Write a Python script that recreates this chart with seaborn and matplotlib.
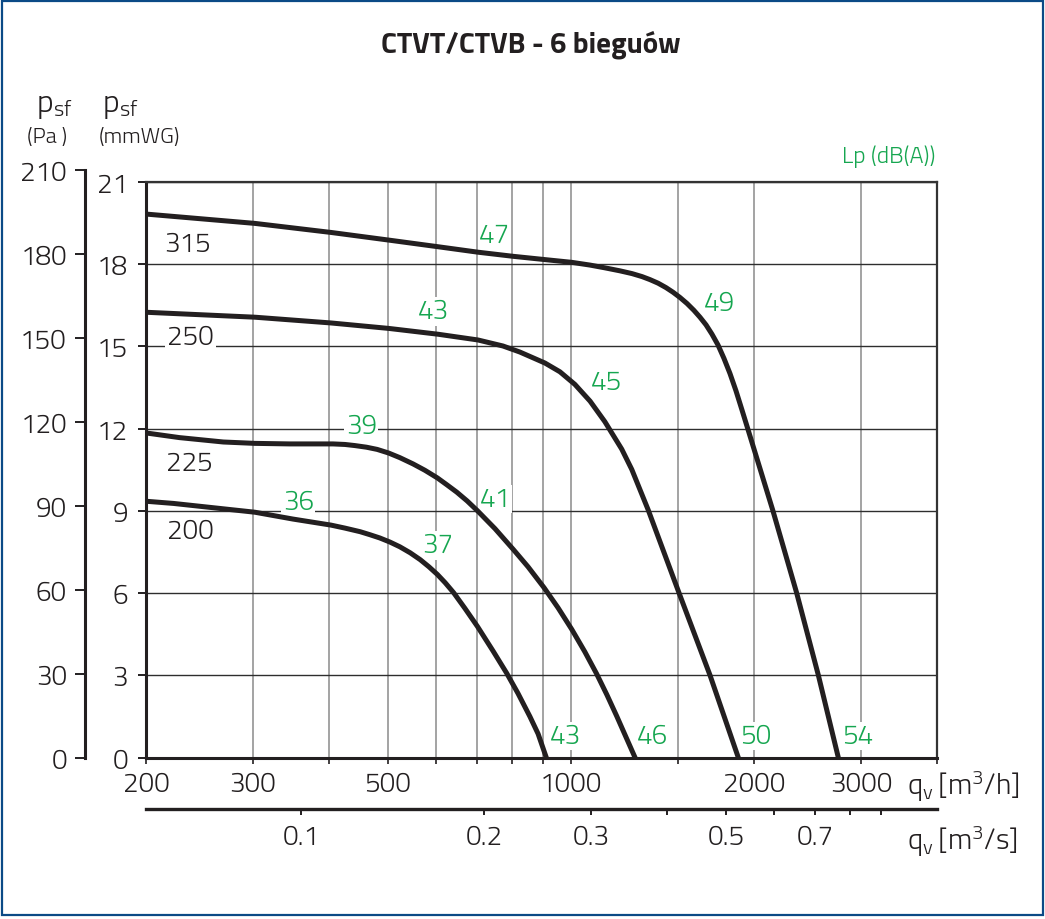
import numpy as np
import pandas as pd
import seaborn as sns
import matplotlib.pyplot as plt
from matplotlib.ticker import FixedLocator, FixedFormatter, NullLocator
from matplotlib.patches import Rectangle

# Fan curves: airflow q [m3/h] vs static pressure p [mmWG]
q_315 = [200, 302, 403, 502, 604, 703, 803, 906, 1003, 1075, 1137, 1204, 1260,
         1309, 1349, 1391, 1433, 1472, 1511, 1552, 1593, 1630, 1668, 1706, 1745,
         1785, 1826, 1868, 1911, 1955, 2147, 2350, 2552, 2753]
p_315 = [19.82, 19.48, 19.15, 18.87, 18.63, 18.43, 18.28, 18.16, 18.06, 17.96,
         17.86, 17.75, 17.65, 17.54, 17.43, 17.30, 17.14, 16.97, 16.78, 16.56,
         16.31, 16.06, 15.78, 15.44, 15.05, 14.56, 14.01, 13.38, 12.68, 11.97,
         9.03, 6.02, 3.01, 0.0]

q_250 = [200, 302, 403, 502, 604, 703, 773, 824, 906, 959, 1015, 1075, 1137,
         1212, 1259, 1340, 1505, 1693, 1885]
p_250 = [16.24, 16.06, 15.85, 15.65, 15.44, 15.23, 15.01, 14.79, 14.39, 14.07,
         13.61, 13.00, 12.25, 11.25, 10.51, 9.03, 6.02, 3.01, 0.0]

q_225 = [200, 227, 268, 302, 345, 406, 425, 441, 461, 480, 501, 523, 550, 575,
         603, 625, 649, 675, 702, 750, 804, 850, 903, 952, 1003, 1054, 1102,
         1146, 1189, 1275]
p_225 = [11.84, 11.67, 11.51, 11.46, 11.44, 11.44, 11.42, 11.38, 11.32, 11.24,
         11.11, 10.94, 10.71, 10.48, 10.20, 9.95, 9.68, 9.36, 9.00, 8.35, 7.59,
         6.96, 6.20, 5.47, 4.68, 3.86, 3.06, 2.29, 1.52, 0.0]

q_200 = [200, 222, 302, 349, 403, 425, 450, 467, 485, 504, 523, 544, 565, 584,
         603, 621, 641, 669, 702, 745, 784, 818, 856, 883, 911]
p_200 = [9.35, 9.27, 8.95, 8.70, 8.48, 8.37, 8.24, 8.13, 8.01, 7.86, 7.69, 7.47,
         7.22, 6.96, 6.68, 6.38, 6.02, 5.45, 4.78, 3.88, 3.08, 2.35, 1.50, 0.87,
         0.0]

# curve names and sound levels Lp dB(A) along each curve
size_names = ['315', '250', '225', '200']
size_q = [234, 237, 236, 237]
size_p = [18.72, 15.34, 10.74, 8.27]

lp_labels = ['47', '43', '39', '36', '37', '41', '45', '49', '43', '46', '50', '54']
lp_q = [747, 595, 452, 356, 604, 750, 1142, 1752, 978, 1359, 2015, 2959]
lp_p = [19.05, 16.28, 12.09, 9.32, 7.75, 9.43, 13.7, 16.58, 0.79, 0.79, 0.79, 0.79]
lp_boxed = [False, True, True, True, True, True, False, False, True, True, True, True]

# axes ticks
q_ticks = [200, 300, 400, 500, 600, 700, 800, 900, 1000, 1500, 2000, 3000, 4000]
q_tick_labels = ['200', '300', '', '500', '', '', '', '', '1000', '', '2000', '3000', '']
mmwg_ticks = [0, 3, 6, 9, 12, 15, 18, 21]
pa_ticks = [0, 30, 60, 90, 120, 150, 180, 210]
qs_ticks = [0.1, 0.2, 0.3, 0.4, 0.5, 0.6, 0.7, 0.8, 0.9]
qs_tick_labels = ['0.1', '0.2', '0.3', '', '0.5', '', '0.7', '', '']

sns.set_theme(style='white')
plt.rcParams['font.family'] = ['Titillium Web', 'DejaVu Sans']
plt.rcParams['font.weight'] = 300
plt.rcParams['mathtext.default'] = 'regular'

W, H = 1045, 920
GREEN = '#16a650'
INK = '#231f20'
FS = 20


def fx(px):
    return px / W


def fy(py):
    return 1 - py / H


fig = plt.figure(figsize=(W / 100, H / 100), dpi=100)
fig.patch.set_facecolor('white')

# main chart
ax = fig.add_axes([fx(146), fy(758.7), (937 - 146) / W, 576 / H])
for q, p in [(q_315, p_315), (q_250, p_250), (q_225, p_225), (q_200, p_200)]:
    sns.lineplot(x=q, y=p, ax=ax, color=INK, lw=3.6, estimator=None, sort=False,
                 zorder=4, solid_joinstyle='round')

ax.set_xscale('log')
ax.set_xlim(200, 4000)
ax.set_ylim(0, 21)
ax.xaxis.set_major_locator(FixedLocator(q_ticks))
ax.xaxis.set_major_formatter(FixedFormatter(q_tick_labels))
ax.xaxis.set_minor_locator(NullLocator())
ax.set_yticks(mmwg_ticks)
ax.set_yticklabels([str(t) for t in mmwg_ticks])
ax.set_xlabel('')
ax.set_ylabel('')
ax.set_axisbelow(True)
ax.xaxis.grid(True, color='#8a8a8a', lw=1.1)
ax.yaxis.grid(True, color='#2e2e2e', lw=1.0)
ax.tick_params(axis='x', direction='out', length=4.5, width=1.2, pad=5,
               labelsize=FS, colors=INK, bottom=True)
ax.tick_params(axis='y', direction='out', length=6, width=1.4, pad=7,
               labelsize=FS, colors=INK, left=True)
for side in ['left', 'bottom']:
    ax.spines[side].set_linewidth(2.2)
    ax.spines[side].set_color(INK)
for side in ['top', 'right']:
    ax.spines[side].set_linewidth(1.6)
    ax.spines[side].set_color('#333333')

for name, q, p in zip(size_names, size_q, size_p):
    ax.text(q, p, name, ha='center', va='center', fontsize=FS, color=INK,
            zorder=3, bbox=dict(facecolor='white', edgecolor='none', pad=1.5))
for name, q, p, boxed in zip(lp_labels, lp_q, lp_p, lp_boxed):
    box = dict(facecolor='white', edgecolor='none', pad=1.0) if boxed else None
    ax.text(q, p, name, ha='center', va='center', fontsize=FS, color=GREEN,
            zorder=3, bbox=box)

# outer Pa axis
ax_pa = fig.add_axes([fx(85), fy(758.7), 0.0001, 588 / H])
ax_pa.patch.set_visible(False)
ax_pa.set_ylim(0, 210)
ax_pa.set_yticks(pa_ticks)
ax_pa.set_yticklabels([str(t) for t in pa_ticks])
ax_pa.set_xticks([])
for side in ['top', 'right', 'bottom']:
    ax_pa.spines[side].set_visible(False)
ax_pa.spines['left'].set_linewidth(2.2)
ax_pa.spines['left'].set_color(INK)
ax_pa.tick_params(axis='y', direction='out', length=7, width=1.4, pad=6,
                  labelsize=FS, colors=INK, left=True)

# secondary m3/s axis
ax_s = fig.add_axes([fx(146), fy(810), (937 - 146) / W, 0.0001])
ax_s.patch.set_visible(False)
ax_s.set_xscale('log')
ax_s.set_xlim(200 / 3600, 4000 / 3600)
ax_s.xaxis.set_major_locator(FixedLocator(qs_ticks))
ax_s.xaxis.set_major_formatter(FixedFormatter(qs_tick_labels))
ax_s.xaxis.set_minor_locator(NullLocator())
ax_s.set_yticks([])
for side in ['top', 'right', 'left']:
    ax_s.spines[side].set_visible(False)
ax_s.spines['bottom'].set_linewidth(2.4)
ax_s.spines['bottom'].set_color(INK)
ax_s.tick_params(axis='x', direction='out', length=4.5, width=1.4, pad=6,
                 labelsize=FS, colors=INK, bottom=True)

# texts around the chart
fig.text(fx(531), fy(45), 'CTVT/CTVB - 6 bieguów', ha='center', va='center',
         fontsize=21, fontweight=700, color=INK)
fig.text(fx(36), fy(106), r'$\mathregular{p_{sf}}$', ha='left', va='center',
         fontsize=23, color=INK)
fig.text(fx(102), fy(106), r'$\mathregular{p_{sf}}$', ha='left', va='center',
         fontsize=23, color=INK)
fig.text(fx(27), fy(137), '(Pa )', ha='left', va='center', fontsize=16, color=INK)
fig.text(fx(99), fy(137), '(mmWG)', ha='left', va='center', fontsize=16, color=INK)
fig.text(fx(935), fy(157), 'Lp (dB(A))', ha='right', va='center', fontsize=17,
         color=GREEN)
fig.text(fx(907), fy(786), r'$\mathregular{q_v\,[m^3/h]}$', ha='left',
         va='center', fontsize=FS + 1, color=INK)
fig.text(fx(907), fy(841), r'$\mathregular{q_v\,[m^3/s]}$', ha='left',
         va='center', fontsize=FS + 1, color=INK)

# blue frame
fig.patches.append(Rectangle((fx(1.5), fy(915.7)), (1043 - 1.5) / W,
                             (915.7 - 1.7) / H, transform=fig.transFigure,
                             fill=False, edgecolor='#0b4a86', lw=1.6))

fig.savefig('out.png', dpi=100)
